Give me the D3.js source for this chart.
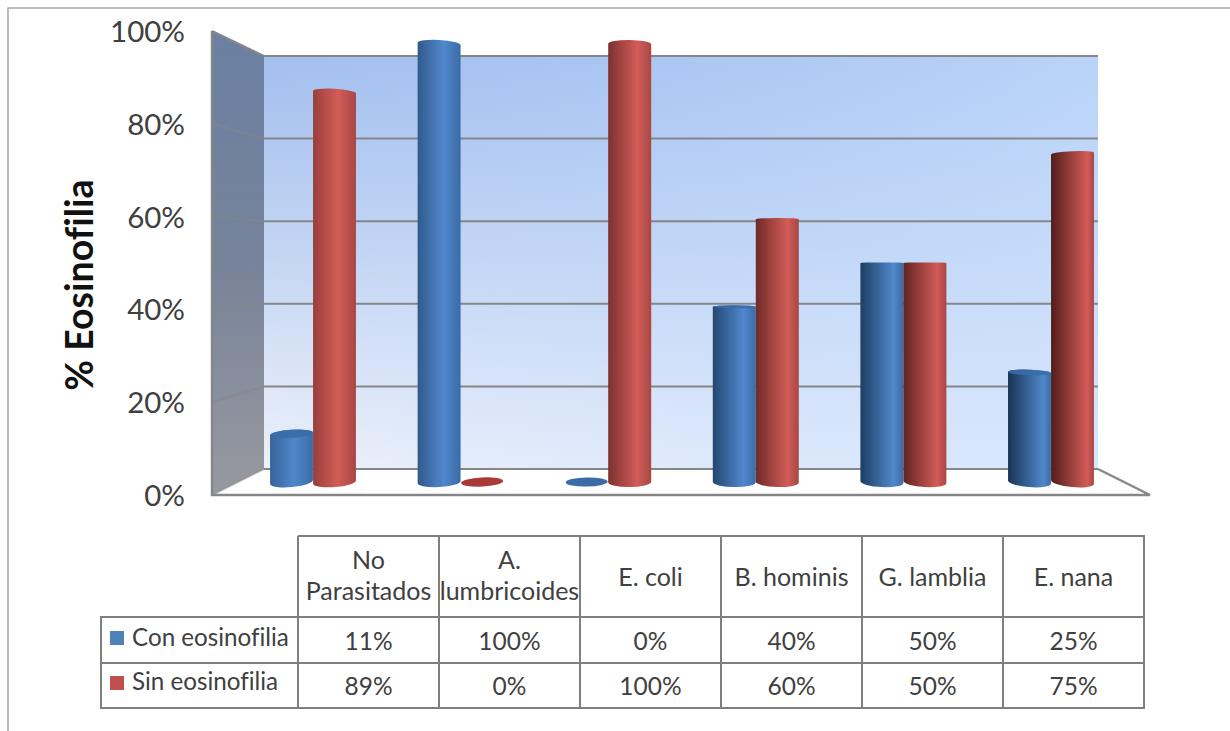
<!DOCTYPE html>
<html>
<head>
<meta charset="utf-8">
<style>
html,body{margin:0;padding:0;background:#fff}
svg{display:block}
text{font-family:Lato,"Noto Sans",sans-serif;fill:#404040;font-variant-ligatures:none}
</style>
<script src="https://d3js.org/d3.v7.min.js"></script>
</head>
<body>
<svg id="chart" width="1230" height="731"></svg>
<script>
// Eosinophilia share per parasite group
const categories = ["No Parasitados", "A. lumbricoides", "E. coli", "B. hominis", "G. lamblia", "E. nana"];
const headerLines = [["No", "Parasitados"], ["A.", "lumbricoides"], ["E. coli"], ["B. hominis"], ["G. lamblia"], ["E. nana"]];
const seriesNames = ["Con eosinofilia", "Sin eosinofilia"];
const conEosinofilia = [11, 100, 0, 40, 50, 25];
const sinEosinofilia = [89, 0, 100, 60, 50, 75];
const tickValues = [0, 20, 40, 60, 80, 100];

const svg = d3.select("#chart");
const defs = svg.append("defs");
const series = [conEosinofilia, sinEosinofilia];

// Outer frame
svg.append("path").attr("d", "M8,731V8H1230").attr("fill", "none").attr("stroke", "#a6a6a6").attr("stroke-width", 1.5);

// 3D box: the front edge of the left wall and the back wall use two scales
const wall = {frontX: 212, backX: 264, backRight: 1098, frontRight: 1150};
const yFront = d3.scaleLinear().domain([0, 100]).range([495, 31]);
const yBack = d3.scaleLinear().domain([0, 100]).range([469, 56]);
const yBar = d3.scaleLinear().domain([0, 100]).range([482, 44]);

const wallFill = defs.append("linearGradient").attr("id", "wallFill").attr("x1", 0).attr("y1", 0).attr("x2", 0).attr("y2", 1);
wallFill.append("stop").attr("offset", 0).attr("stop-color", "#a3bfee");
wallFill.append("stop").attr("offset", 0.45).attr("stop-color", "#c2d4f3");
wallFill.append("stop").attr("offset", 1).attr("stop-color", "#edf1fa");
const wallSheen = defs.append("linearGradient").attr("id", "wallSheen");
wallSheen.append("stop").attr("offset", 0).attr("stop-color", "#b4d0ff").attr("stop-opacity", 0);
wallSheen.append("stop").attr("offset", 1).attr("stop-color", "#c8e0ff").attr("stop-opacity", 0.6);
const sideFill = defs.append("linearGradient").attr("id", "sideFill").attr("x1", 0).attr("y1", 0).attr("x2", 0).attr("y2", 1);
sideFill.append("stop").attr("offset", 0).attr("stop-color", "#6a80a2");
sideFill.append("stop").attr("offset", 0.5).attr("stop-color", "#77839a");
sideFill.append("stop").attr("offset", 1).attr("stop-color", "#97999f");

const backRect = `M${wall.backX},${yBack(100)}H${wall.backRight}V${yBack(0)}H${wall.backX}Z`;
svg.append("path").attr("d", backRect).attr("fill", "url(#wallFill)");
svg.append("path").attr("d", backRect).attr("fill", "url(#wallSheen)");
svg.append("path")
  .attr("d", `M${wall.frontX},${yFront(100)}L${wall.backX},${yBack(100)}V${yBack(0)}L${wall.frontX},${yFront(0)}Z`)
  .attr("fill", "url(#sideFill)");

// Gridlines run along the side wall, then across the back wall
const gridColor = "#868686";
svg.append("g").selectAll("path").data(tickValues).join("path")
  .attr("d", t => `M${wall.backX},${yBack(t)}H${wall.backRight}`)
  .attr("fill", "none").attr("stroke", gridColor).attr("stroke-width", 2);
svg.append("g").selectAll("path").data(tickValues).join("path")
  .attr("d", t => `M${wall.frontX},${yFront(t)}L${wall.backX},${yBack(t)}`)
  .attr("fill", "none").attr("stroke", gridColor).attr("stroke-width", 2).attr("stroke-opacity", t => t === 100 ? 1 : 0.55);
svg.append("path")
  .attr("d", `M${wall.frontX},${yFront(100)}V${yFront(0)}H${wall.frontRight}L${wall.backRight},${yBack(0)}`)
  .attr("fill", "none").attr("stroke", gridColor).attr("stroke-width", 2.4);

const axis = d3.axisLeft(yFront).tickValues(tickValues).tickSize(0).tickPadding(27).tickFormat(d => d + "%");
const axisG = svg.append("g").attr("transform", `translate(${wall.frontX},1)`).call(axis);
axisG.select(".domain").remove();
axisG.selectAll("text").attr("font-size", 29.5).style("font-family", "Lato,sans-serif").style("fill", "#404040");

svg.append("text").attr("transform", "translate(93,285) rotate(-90)")
  .attr("text-anchor", "middle").attr("font-size", 37.5).attr("font-weight", 700).style("fill", "#111")
  .text("% Eosinofilia");

// Cylinders
const x0 = d3.scaleBand().domain(categories).range([239.2, 1124.8]);
const barW = 43;
const x1 = d3.scaleBand().domain(seriesNames).range([-barW, barW]);
const baseColors = [
  {edge: "#14304f", mid: "#5088cc", dim: "#3a6ba6", cap: "#3a6ca8"},
  {edge: "#501c1a", mid: "#d25c58", dim: "#a84744", cap: "#a83a37"}
];
const sceneCenter = 680;
const highlight = d3.scaleLinear().domain([270, 1093]).range([0.55, 0.85]);
const edgeMix = d3.scaleLinear().domain([270, 1093]).range([0.4, 1]);

// Perspective makes each ellipse lean according to its offset from the eye point
function tilt(cx, v) {
  return 0.026 * (cx - sceneCenter) * (0.5 - v / 100);
}
function capRy(v) {
  return v < 50 ? 0.6 + 9 * (0.5 - v / 100) : 0.6 + 7 * (v / 100 - 0.5);
}
function arcEnds(cx, y, rx, deg) {
  const a = deg * Math.PI / 180;
  return {lx: cx - rx * Math.cos(a), ly: y - rx * Math.sin(a), rx: cx + rx * Math.cos(a), ry: y + rx * Math.sin(a)};
}

const bars = [];
categories.forEach((c, ci) => seriesNames.forEach((s, si) => {
  bars.push({cat: c, name: s, si, ci, v: series[si][ci]});
}));

bars.forEach(d => {
  d.cx = x0(d.cat) + x0.bandwidth() / 2 + x1(d.name) + x1.bandwidth() / 2;
  const col = baseColors[d.si];
  const left = d3.interpolateRgb(col.mid, col.edge)(edgeMix(d.cx));
  const g = defs.append("linearGradient").attr("id", `bar${d.ci}-${d.si}`);
  g.append("stop").attr("offset", 0).attr("stop-color", left);
  g.append("stop").attr("offset", highlight(d.cx)).attr("stop-color", col.mid);
  g.append("stop").attr("offset", 1).attr("stop-color", col.dim);
});

const rx = barW / 2;
const barG = svg.append("g");
bars.forEach(d => {
  if (d.v === 0) {
    barG.append("ellipse").attr("rx", rx - 0.5).attr("ry", 4.6)
      .attr("transform", `translate(${d.cx},${yBar(0)}) rotate(${tilt(d.cx, 0)})`)
      .attr("fill", baseColors[d.si].cap);
    return;
  }
  const t = arcEnds(d.cx, yBar(d.v), rx, tilt(d.cx, d.v));
  const b = arcEnds(d.cx, yBar(0), rx, tilt(d.cx, 0));
  const rTop = capRy(d.v), rBot = capRy(0);
  barG.append("path")
    .attr("d", `M${t.lx},${t.ly}A${rx},${rTop} ${tilt(d.cx, d.v)} 0 1 ${t.rx},${t.ry}L${b.rx},${b.ry}A${rx},${rBot} ${tilt(d.cx, 0)} 0 1 ${b.lx},${b.ly}Z`)
    .attr("fill", `url(#bar${d.ci}-${d.si})`);
  // Caps below eye level show their top face
  if (d.v < 50) {
    barG.append("ellipse").attr("rx", rx).attr("ry", rTop)
      .attr("transform", `translate(${d.cx},${yBar(d.v)}) rotate(${tilt(d.cx, d.v)})`)
      .attr("fill", baseColors[d.si].cap).attr("fill-opacity", 0.9);
  }
});

// Data table under the plot
const colX = d3.scaleBand().domain(categories).range([298, 1144]);
const rowY = [536, 617, 663, 708];
const tableX = 101;
const tableColor = "#7f7f7f";
const table = svg.append("g").attr("fill", "none").attr("stroke", tableColor).attr("stroke-width", 2);
table.append("path").attr("d", `M298,${rowY[0]}H1144V${rowY[3]}H${tableX}V${rowY[1]}H1144`);
table.append("path").attr("d", `M${tableX},${rowY[2]}H1144`);
table.selectAll(".col").data([298].concat(categories.map(c => colX(c) + colX.bandwidth()))).join("path")
  .attr("class", "col").attr("d", x => `M${x},${rowY[0]}V${rowY[3]}`);

const cellCx = c => colX(c) + colX.bandwidth() / 2;
const labelG = svg.append("g").attr("text-anchor", "middle");
categories.forEach((c, i) => {
  const lines = headerLines[i];
  lines.forEach((ln, k) => {
    const yc = lines.length === 1 ? 577 : (k === 0 ? 560 : 591);
    labelG.append("text").attr("x", cellCx(c)).attr("y", yc).attr("dy", "0.35em").attr("font-size", 25).text(ln);
  });
  series.forEach((vals, si) => {
    labelG.append("text").attr("x", cellCx(c)).attr("y", si === 0 ? 641 : 686).attr("dy", "0.35em").attr("font-size", 24.5).text(vals[i] + "%");
  });
});
seriesNames.forEach((s, si) => {
  const yc = si === 0 ? 638 : 682;
  svg.append("rect").attr("x", 110).attr("y", si === 0 ? 631 : 676).attr("width", 14).attr("height", 14)
    .attr("fill", si === 0 ? "#4f81bd" : "#c0504d");
  svg.append("text").attr("x", 132).attr("y", yc).attr("dy", "0.35em").attr("font-size", 24.2).text(s);
});
</script>
</body>
</html>
